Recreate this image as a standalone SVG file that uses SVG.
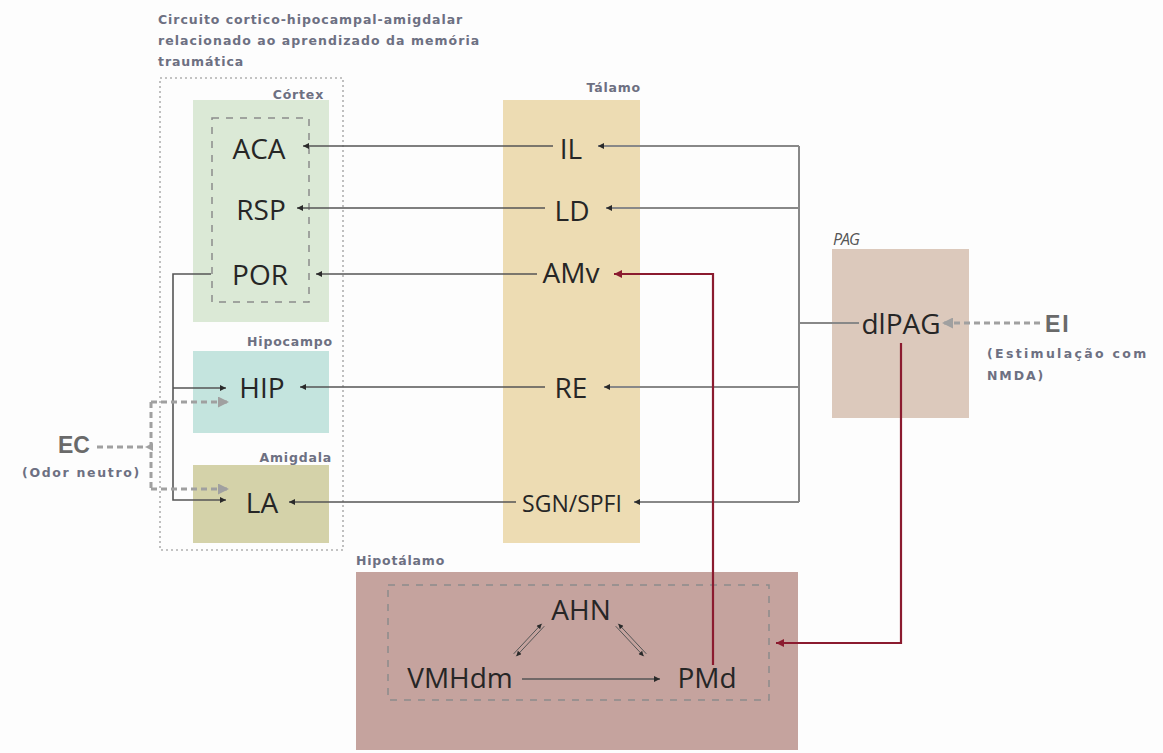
<svg xmlns="http://www.w3.org/2000/svg" width="1163" height="753" viewBox="0 0 1163 753">
<defs>
<style>
.node{font-family:"Open Sans","Liberation Sans",sans-serif;font-size:28px;fill:#262626;text-anchor:middle}
.lab{font-family:"DejaVu Sans","Liberation Sans",sans-serif;font-weight:bold;font-size:12.5px;fill:#6d7082;letter-spacing:0.8px}
.big{font-family:"Liberation Sans",sans-serif;font-weight:bold;font-size:23px;fill:#6a6a6a}
.ln{fill:none;stroke:#555;stroke-width:1.6}
.tr{fill:none;stroke:#888;stroke-width:2}
.red{fill:none;stroke:#8b1b2f;stroke-width:2.2}
.gd{fill:none;stroke:#a0a0a0;stroke-width:3;stroke-dasharray:6 4}
.dot{fill:none;stroke:#b0b0b0;stroke-width:1.6;stroke-dasharray:2 3}
.dash{fill:none;stroke:#8c8c8c;stroke-width:1.5;stroke-dasharray:7 7}
</style>
<marker id="ah" viewBox="0 0 10 10" refX="10" refY="5" markerWidth="8" markerHeight="6" markerUnits="userSpaceOnUse" orient="auto"><path d="M0,0L10,5L0,10z" fill="#2a2a2a"/></marker>
<marker id="ahr" viewBox="0 0 10 10" refX="10" refY="5" markerWidth="10" markerHeight="8" markerUnits="userSpaceOnUse" orient="auto"><path d="M0,0L10,5L0,10z" fill="#8b1b2f"/></marker>
<marker id="ahg" viewBox="0 0 10 10" refX="10" refY="5" markerWidth="13" markerHeight="11" markerUnits="userSpaceOnUse" orient="auto"><path d="M0,0L10,5L0,10z" fill="#a0a0a0"/></marker>
<marker id="ahs" viewBox="0 0 10 10" refX="10" refY="5" markerWidth="7" markerHeight="5" markerUnits="userSpaceOnUse" orient="auto"><path d="M0,0L10,5L0,10z" fill="#2a2a2a"/></marker>
</defs>
<rect width="1163" height="753" fill="#fdfdfd"/>

<g id="title">
<text class="lab" x="158" y="24" textLength="305" lengthAdjust="spacing">Circuito cortico-hipocampal-amigdalar</text>
<text class="lab" x="158" y="45" textLength="322" lengthAdjust="spacing">relacionado ao aprendizado da memória</text>
<text class="lab" x="158" y="66" textLength="86" lengthAdjust="spacing">traumática</text>
<rect class="dot" x="160" y="78" width="183" height="472"/>
</g>

<g id="cortex">
<rect x="193" y="100" width="136" height="222" fill="#dbe9d6"/>
<text class="lab" x="324" y="99" text-anchor="end">Córtex</text>
<rect class="dash" x="212" y="118" width="97" height="184"/>
<text class="node" x="259" y="159">ACA</text>
<text class="node" x="261" y="220">RSP</text>
<text class="node" x="260" y="285">POR</text>
</g>

<g id="hipocampo">
<rect x="193" y="351" width="136" height="82" fill="#c4e4de"/>
<text class="lab" x="333" y="346" text-anchor="end">Hipocampo</text>
<text class="node" x="262" y="398">HIP</text>
</g>

<g id="amigdala">
<rect x="193" y="465" width="136" height="78" fill="#d4d2a9"/>
<text class="lab" x="332" y="462" text-anchor="end">Amigdala</text>
<text class="node" x="262" y="513">LA</text>
</g>

<g id="talamo">
<rect x="503" y="100" width="137" height="443" fill="#eddcb3"/>
<text class="lab" x="641" y="92" text-anchor="end">Tálamo</text>
<text class="node" x="571" y="159">IL</text>
<text class="node" x="572" y="221">LD</text>
<text class="node" x="571" y="283">AMv</text>
<text class="node" x="571" y="398">RE</text>
<text class="node" x="572" y="512" style="font-size:23px">SGN/SPFI</text>
</g>

<g id="pag">
<rect x="832" y="249" width="137" height="169" fill="#dcc9bc"/>
<text x="833" y="245" style="font-family:'Open Sans',sans-serif;font-style:italic;font-size:16px;fill:#555;letter-spacing:-1px">PAG</text>
<text class="node" x="901" y="334">dlPAG</text>
</g>

<g id="hipotalamo">
<rect x="356" y="572" width="442" height="178" fill="#c5a39e"/>
<text class="lab" x="356" y="565">Hipotálamo</text>
<rect class="dash" x="388" y="585" width="381" height="115"/>
<text class="node" x="581" y="620">AHN</text>
<text class="node" x="460" y="688">VMHdm</text>
<text class="node" x="707" y="688">PMd</text>
</g>

<g id="ec">
<text class="big" x="58" y="453">EC</text>
<text class="lab" x="22" y="477" textLength="118" lengthAdjust="spacing">(Odor neutro)</text>
</g>

<g id="ei">
<text class="big" x="1045" y="332" style="letter-spacing:2px">EI</text>
<text class="lab" x="987" y="358" textLength="160" lengthAdjust="spacing">(Estimulação com</text>
<text class="lab" x="987" y="380" textLength="57" lengthAdjust="spacing">NMDA)</text>
</g>

<g id="connectors">
<path class="ln" d="M553,146H303" marker-end="url(#ah)"/>
<path class="ln" d="M545,208H297" marker-end="url(#ah)"/>
<path class="ln" d="M537,274H316" marker-end="url(#ah)"/>
<path class="ln" d="M545,387H300" marker-end="url(#ah)"/>
<path class="ln" d="M516,502H289" marker-end="url(#ah)"/>
<path class="tr" d="M799,146V502"/>
<path class="tr" d="M799,146H598" marker-end="url(#ah)"/>
<path class="tr" d="M799,208H606" marker-end="url(#ah)"/>
<path class="tr" d="M799,387H604" marker-end="url(#ah)"/>
<path class="tr" d="M799,502H634" marker-end="url(#ah)"/>
<path class="tr" d="M799,323H859"/>
<path class="ln" d="M211,274H173V500H226" marker-end="url(#ah)"/>
<path class="ln" d="M173,388H226" marker-end="url(#ah)"/>
<path class="red" d="M901,343V643H776" marker-end="url(#ahr)"/>
<path class="red" d="M713,665V274H614" marker-end="url(#ahr)"/>
<path class="ln" d="M522,679H660" marker-end="url(#ah)"/>
<path class="ln" style="stroke-width:1" d="M513.7,653.8L541.7,623.8" marker-end="url(#ahs)"/>
<path class="ln" style="stroke-width:1" d="M544.3,626.2L516.3,656.2" marker-end="url(#ahs)"/>
<path class="ln" style="stroke-width:1" d="M646.3,653.8L618.3,623.8" marker-end="url(#ahs)"/>
<path class="ln" style="stroke-width:1" d="M615.7,626.2L643.7,656.2" marker-end="url(#ahs)"/>
<path class="gd" d="M97,447H146"/>
<path d="M145,447L153,443L153,451z" fill="#a0a0a0"/>
<path class="gd" d="M151,402V489"/>
<path class="gd" d="M151,402H229" marker-end="url(#ahg)"/>
<path class="gd" d="M151,489H229" marker-end="url(#ahg)"/>
<path class="gd" d="M1040,323H942" marker-end="url(#ahg)"/>
</g>
</svg>
